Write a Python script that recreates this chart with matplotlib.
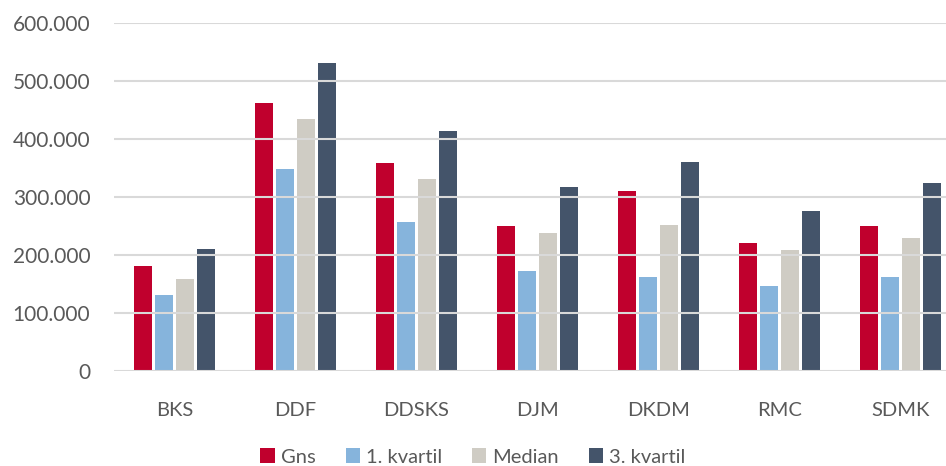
import matplotlib
matplotlib.use("Agg")
import matplotlib.pyplot as plt
import numpy as np
from matplotlib.ticker import FuncFormatter

categories = ["BKS", "DDF", "DDSKS", "DJM", "DKDM", "RMC", "SDMK"]
gns = [181000, 463000, 359000, 250000, 311000, 221000, 250000]
kvartil1 = [131000, 349000, 257000, 173000, 162000, 147000, 162000]
median = [159000, 435000, 331000, 238000, 252000, 209000, 230000]
kvartil3 = [211000, 532000, 414000, 318000, 361000, 276000, 325000]
series_names = ["Gns", "1. kvartil", "Median", "3. kvartil"]
colors = ["#c0002d", "#86b4dc", "#cfccc4", "#44546a"]

plt.rcParams['font.family'] = ['Lato', 'DejaVu Sans']

W, H = 946, 466
fig = plt.figure(figsize=(W / 100, H / 100), dpi=100)
left = 114 / W
bottom = 1 - 371 / H
top = 1 - 23.3 / H
ax = fig.add_axes([left, bottom, 1 - left, top - bottom])

x = np.arange(len(categories))
step = 0.1736
width = 0.149
data = [gns, kvartil1, median, kvartil3]
for i, (vals, name, c) in enumerate(zip(data, series_names, colors)):
    ax.bar(x + (i - 1.5) * step, vals, width, color=c, label=name, zorder=1)

ax.set_ylim(0, 600000)
ax.set_xlim(-0.5, 6.5 - 15 / 121)
ax.set_yticks(np.arange(0, 600001, 100000))
ax.yaxis.set_major_formatter(FuncFormatter(lambda v, p: "0" if v == 0 else f"{int(v):,}".replace(",", ".")))
ax.grid(axis='y', color='#d9d9d9', linewidth=1.5, zorder=2)
ax.set_axisbelow(False)
for s in ax.spines.values():
    s.set_visible(False)
ax.tick_params(axis='both', length=0, colors='#595959')
ax.tick_params(axis='y', pad=17, labelsize=15)
ax.tick_params(axis='x', pad=22, labelsize=14.5)
ax.set_xticks(x)
ax.set_xticklabels(categories)

fig.legend(loc='center', bbox_to_anchor=(0.5, 1 - 457 / H), ncol=4, frameon=False,
           fontsize=14.5, labelcolor='#595959', handlelength=0.7, handleheight=0.7,
           handletextpad=0.3, columnspacing=1.5)

fig.savefig("out.png", dpi=100)
